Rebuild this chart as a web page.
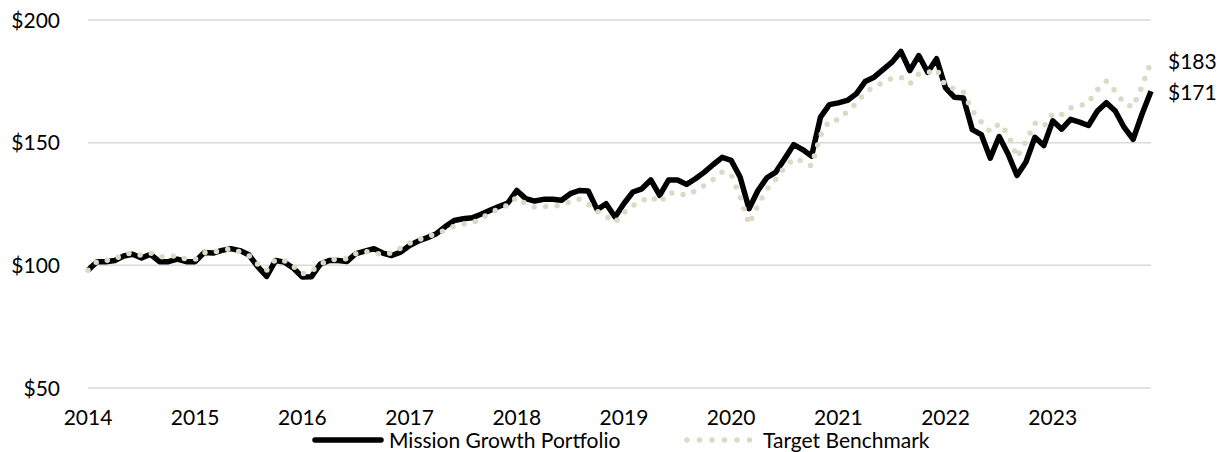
<!DOCTYPE html>
<html>
<head>
<meta charset="utf-8">
<script src="https://cdn.jsdelivr.net/npm/d3@7"></script>
<style>
  html, body { margin: 0; padding: 0; background: #fff; }
  text { font-family: Lato, 'Open Sans', sans-serif; fill: #000; }
</style>
</head>
<body>
<div id="chartArea"></div>
<script>
// monthly values, Jan 2014 .. Dec 2023
const portfolio = [
  98, 101.5, 101.5, 102, 103.8, 104.5, 103, 104.5, 101.5, 101.5, 102.5, 101.5,
  101.5, 105.2, 105, 106.1, 106.8, 106, 104.3, 99.5, 95.5, 102, 101.3, 98.8,
  95.2, 95.3, 100.5, 102, 102, 101.6, 104.8, 105.8, 106.8, 105, 104, 105.4,
  108.1, 109.9, 111.3, 112.9, 115.8, 118.3, 119, 119.4, 120.8, 122.4, 124, 125.4,
  130.5, 127.2, 126.2, 126.9, 126.9, 126.5, 129.2, 130.5, 130.3, 122.7, 125.1, 119.7,
  125.2, 129.9, 131.2, 134.8, 128.5, 134.8, 134.8, 133, 135.3, 138, 141.1, 144,
  142.8, 136, 123.1, 130.5, 135.7, 138, 143.5, 149.2, 147.2, 144.5, 160.4, 165.5,
  166.2, 167.2, 169.9, 174.9, 176.7, 179.8, 182.8, 187.2, 179.4, 185.5, 178.7, 184.2,
  172.3, 168.5, 168.2, 155.3, 153.3, 143.7, 152.5, 145.4, 136.6, 142.1, 152.2, 148.8,
  158.9, 155.5, 159.5, 158.4, 157, 162.9, 166.3, 162.9, 156.2, 151.4, 161.7, 171
]
const benchmark = [
  98, 101.6, 102, 102.5, 104.5, 105, 104, 105, 103.5, 103.5, 104, 102.5,
  102.5, 105.2, 105.5, 106, 106.8, 105.5, 104, 100.5, 98, 102.4, 101.8, 99.5,
  96.5, 97.5, 100.5, 102.2, 102.5, 102.7, 104.8, 105.7, 105, 104.5, 105, 107,
  109, 110.5, 111.5, 113, 114.3, 116, 116.8, 117.2, 119, 121.5, 123, 124.5,
  127.8, 125, 123.7, 124, 124, 124.5, 126, 127, 125, 122, 120, 117.5,
  121.5, 124.4, 126.3, 128, 125.5, 129.5, 129.5, 128.5, 130.3, 132.5, 135, 138,
  137, 128, 116.7, 124.5, 131, 135, 140, 143.5, 142.5, 140.5, 153, 159,
  159.3, 162.7, 166, 170.5, 172.9, 174.5, 176.2, 176.7, 174, 178, 178.5, 180,
  173, 172, 170.5, 163, 158.4, 154.5, 157.8, 153.6, 144, 150.5, 158, 156.5,
  162, 161.5, 164.2, 164.8, 166.5, 171.6, 175, 171, 166, 164.5, 173, 183
]
const startYear = 2014
const yearTicks = [2014, 2015, 2016, 2017, 2018, 2019, 2020, 2021, 2022, 2023]
const valueTicks = [50, 100, 150, 200]
const seriesNames = ['Mission Growth Portfolio', 'Target Benchmark']
const endLabels = ['$183', '$171']

const width = 1219
const height = 452
const margin = { top: 20, right: 68, bottom: 64, left: 88 }
const fontSize = 21
const benchColor = '#ddd9c6'
const legendY = 440

const svg = d3
  .select('#chartArea')
  .append('svg')
  .attr('width', width)
  .attr('height', height)

const xScale = d3
  .scaleLinear()
  .domain([startYear, startYear + (portfolio.length - 1) / 12])
  .range([margin.left, width - margin.right])

const yScale = d3
  .scaleLinear()
  .domain([50, 200])
  .range([height - margin.bottom, margin.top])

// gridlines
svg
  .append('g')
  .selectAll('line')
  .data(valueTicks)
  .join('line')
  .attr('x1', xScale.range()[0])
  .attr('x2', xScale.range()[1])
  .attr('y1', d => yScale(d))
  .attr('y2', d => yScale(d))
  .attr('stroke', '#d9d9d9')
  .attr('stroke-width', 1.5)

// y labels
svg
  .append('g')
  .selectAll('text')
  .data(valueTicks)
  .join('text')
  .attr('x', 60)
  .attr('y', d => yScale(d))
  .attr('dy', '0.36em')
  .attr('text-anchor', 'end')
  .attr('font-size', fontSize)
  .text(d => '$' + d)

// x labels
svg
  .append('g')
  .selectAll('text')
  .data(yearTicks)
  .join('text')
  .attr('x', d => xScale(d))
  .attr('y', 417)
  .attr('dy', '0.36em')
  .attr('text-anchor', 'middle')
  .attr('font-size', fontSize)
  .text(d => d)

const line = d3
  .line()
  .x((d, i) => xScale(startYear + i / 12))
  .y(d => yScale(d))

// portfolio (solid)
svg
  .append('path')
  .datum(portfolio)
  .attr('d', line)
  .attr('fill', 'none')
  .attr('stroke', '#000')
  .attr('stroke-width', 5.5)
  .attr('stroke-linejoin', 'round')

// benchmark (dotted, drawn on top)
svg
  .append('path')
  .datum(benchmark)
  .attr('d', line)
  .attr('fill', 'none')
  .attr('stroke', benchColor)
  .attr('stroke-width', 5.5)
  .attr('stroke-linecap', 'round')
  .attr('stroke-dasharray', '0 11.5')

// end labels
svg
  .append('g')
  .selectAll('text')
  .data([benchmark[benchmark.length - 1], portfolio[portfolio.length - 1]])
  .join('text')
  .attr('x', 1168)
  .attr('y', (d, i) => (i === 0 ? yScale(d) : yScale(d) + 1))
  .attr('dy', '0.36em')
  .attr('font-size', fontSize)
  .text((d, i) => endLabels[i])

// legend
const legend = svg.append('g')
legend
  .append('line')
  .attr('x1', 315)
  .attr('x2', 381)
  .attr('y1', legendY)
  .attr('y2', legendY)
  .attr('stroke', '#000')
  .attr('stroke-width', 5.5)
  .attr('stroke-linecap', 'round')
legend
  .append('text')
  .attr('x', 389)
  .attr('y', legendY)
  .attr('dy', '0.36em')
  .attr('font-size', fontSize)
  .text(seriesNames[0])
legend
  .append('line')
  .attr('x1', 687)
  .attr('x2', 750)
  .attr('y1', legendY)
  .attr('y2', legendY)
  .attr('stroke', benchColor)
  .attr('stroke-width', 5.5)
  .attr('stroke-linecap', 'round')
  .attr('stroke-dasharray', '0 12.5')
legend
  .append('text')
  .attr('x', 763)
  .attr('y', legendY)
  .attr('dy', '0.36em')
  .attr('font-size', fontSize)
  .text(seriesNames[1])
</script>
</body>
</html>
